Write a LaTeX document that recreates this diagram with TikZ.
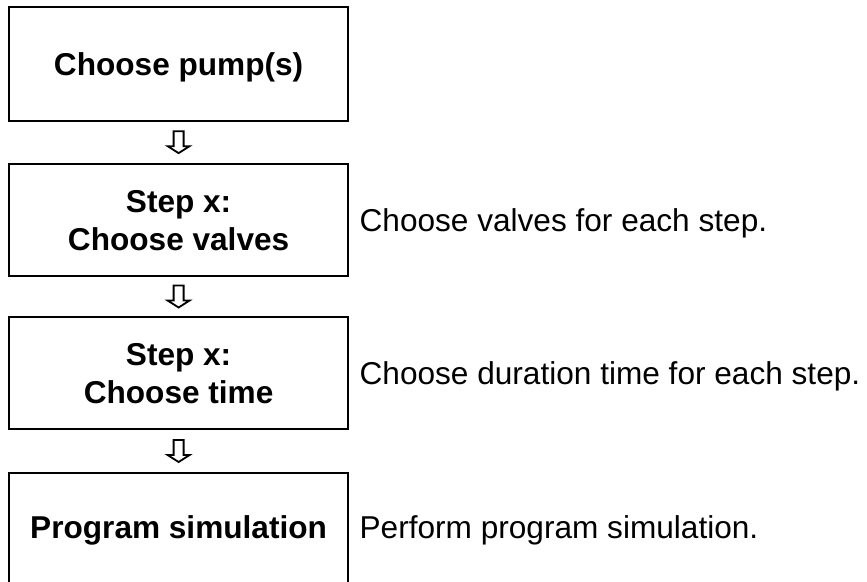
\documentclass[tikz,border=0pt]{standalone}
\usepackage{fontspec}
\setmainfont{Liberation Sans}
\usetikzlibrary{calc}
\newcommand\hollowdown[1]{%
  \draw[hollow] ($(#1)+(-5,-11)$) -- ++(0,15) -- ++(-6,0) -- ++(11,7)
    -- ++(11,-7) -- ++(-6,0) -- ++(0,-15) -- cycle;}
\begin{document}
\begin{tikzpicture}[x=1pt,y=-1pt,
  box/.style={draw, line width=2pt, minimum width=339.7pt, minimum height=113pt, inner sep=0pt},
  boxtext/.style={font=\fontsize{31.6}{38}\selectfont\bfseries, anchor=base, inner sep=0pt},
  note/.style={font=\fontsize{31.6}{38}\selectfont, anchor=base west, inner sep=0pt},
  hollow/.style={draw, line width=1.8pt, line join=miter}]
\useasboundingbox (0,0) rectangle (867,581);
\clip (0,0) rectangle (867,581);
% boxes
\node[box, minimum height=113.8pt] (b1) at (178.6,63.9) {};
\node[box, minimum height=112.5pt] (b2) at (178.6,219.75) {};
\node[box, minimum height=112pt]   (b3) at (178.6,373) {};
\node[box, minimum height=113pt]   (b4) at (178.6,529.5) {};
% box texts
\node[boxtext] (t1)  at ($(b1.center)+(0,11.3)$) {Choose pump(s)};
\node[boxtext] (t2a) at ($(b2.center)+(0,-7.7)$) {Step x:};
\node[boxtext] (t2b) at ($(b2.center)+(0,30.3)$) {Choose valves};
\node[boxtext] (t3a) at ($(b3.center)+(0,-7.7)$) {Step x:};
\node[boxtext] (t3b) at ($(b3.center)+(0,30.3)$) {Choose time};
\node[boxtext] (t4)  at ($(b4.center)+(0,9)$) {Program simulation};
% notes
\node[note] (n2) at ($(b2.east)+(10,11.3)$) {Choose valves for each step.};
\node[note] (n3) at ($(b3.east)+(10,11.3)$) {Choose duration time for each step.};
\node[note] (n4) at ($(b4.east)+(10,9)$) {Perform program simulation.};
% hollow arrows between boxes
\coordinate (a1) at ($(b1.south)!0.5!(b2.north)$);
\coordinate (a2) at ($(b2.south)!0.5!(b3.north)$);
\coordinate (a3) at ($(b3.south)!0.5!(b4.north)$);
\hollowdown{a1}
\hollowdown{a2}
\hollowdown{a3}
\end{tikzpicture}
\end{document}
